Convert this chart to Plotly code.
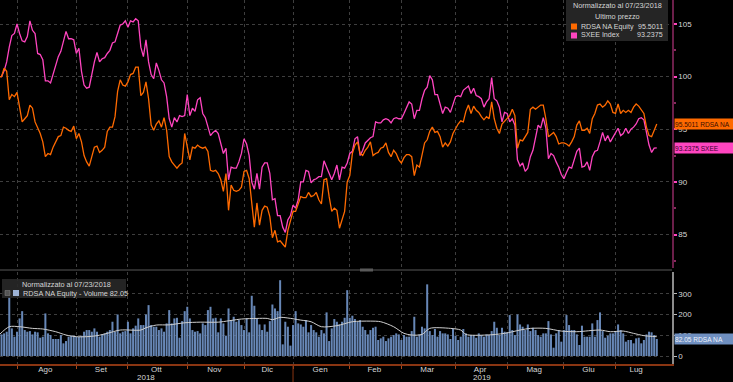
import pandas as pd
import plotly.graph_objects as go

# ---------------- data ----------------
START, END = "2018-07-23", "2019-07-23"
HOLIDAYS = ["2018-12-25", "2018-12-26", "2019-01-01", "2019-04-19", "2019-04-22", "2019-05-01"]
MONTHS_IT = {1: "Gen", 2: "Feb", 3: "Mar", 4: "Apr", 5: "Mag", 6: "Giu",
             7: "Lug", 8: "Ago", 9: "Set", 10: "Ott", 11: "Nov", 12: "Dic"}

# normalised prices, one value per trading session (07/23/2018 = 100)
rdsa = [
    100.0, 100.0, 100.8, 100.5, 97.8, 98.3, 98.1, 98.5, 97.1, 95.7,
    96.0, 96.3, 97.3, 97.0, 95.7, 95.1, 94.6, 93.8, 92.4, 92.7,
    92.6, 93.3, 93.8, 94.3, 94.4, 95.2, 95.1, 94.9, 94.8, 95.3,
    94.1, 94.6, 93.8, 92.5, 91.9, 91.5, 92.4, 93.3, 93.4, 92.8,
    93.0, 93.3, 94.8, 95.2, 95.2, 96.2, 98.6, 99.7, 99.2, 99.1,
    99.5, 100.2, 100.3, 100.9, 100.9, 98.2, 98.5, 99.5, 97.9, 95.4,
    94.9, 95.5, 95.8, 95.2, 96.1, 94.9, 92.4, 91.9, 91.6, 91.3,
    91.6, 91.8, 94.6, 93.3, 92.1, 93.3, 93.2, 93.5, 93.3, 93.2,
    93.3, 92.9, 91.1, 91.0, 91.1, 90.8, 90.2, 89.1, 90.8, 87.3,
    89.7, 89.2, 89.1, 89.2, 89.5, 91.0, 91.1, 90.3, 87.8, 85.7,
    88.0, 85.9, 87.3, 87.7, 87.6, 86.7, 84.7, 85.4, 84.3, 84.4,
    84.1, 83.8, 85.4, 86.2, 87.2, 87.2, 87.9, 88.6, 88.5, 88.5,
    89.0, 88.6, 88.7, 89.0, 88.3, 87.9, 90.2, 90.3, 88.6, 87.2,
    87.5, 87.3, 85.6, 86.4, 87.2, 90.0, 90.6, 92.7, 93.5, 93.8,
    92.7, 92.5, 93.0, 93.3, 93.8, 92.5, 92.7, 92.8, 93.2, 93.3,
    93.7, 92.8, 92.4, 93.0, 92.7, 92.1, 91.8, 92.3, 92.6, 92.6,
    92.4, 90.6, 91.6, 91.4, 92.7, 93.7, 94.0, 94.8, 95.2, 94.7,
    94.8, 94.3, 93.3, 93.7, 93.4, 93.8, 94.6, 95.1, 95.5, 95.8,
    95.7, 96.7, 97.3, 96.5, 97.2, 96.8, 96.6, 96.2, 95.9, 96.2,
    96.0, 97.6, 96.0, 95.1, 94.6, 95.5, 95.8, 96.0, 96.3, 96.9,
    96.3, 93.2, 94.0, 93.9, 94.3, 94.7, 96.9, 97.1, 96.9, 97.1,
    97.3, 97.3, 96.0, 94.3, 94.5, 94.7, 94.3, 93.6, 93.7, 93.7,
    93.6, 93.4, 93.8, 94.3, 95.4, 95.8, 94.9, 94.9, 95.1, 94.6,
    96.0, 96.5, 97.3, 97.4, 97.1, 97.3, 97.7, 97.4, 96.6, 96.5,
    97.4, 96.5, 96.8, 96.6, 96.8, 96.6, 97.1, 97.4, 97.2, 96.8,
    96.5, 95.2, 94.4, 94.3, 94.9, 95.5011,
]
sxee = [
    100.0, 100.0, 100.55, 101.4, 102.8, 103.9, 104.1, 105.0, 104.1, 103.4,
    103.3, 103.8, 105.3, 104.4, 104.1, 102.2, 102.1, 101.6, 99.6, 99.6,
    99.4, 100.2, 100.9, 101.9, 102.4, 103.5, 104.3, 103.6, 103.6, 103.5,
    102.2, 102.7, 100.5, 99.2, 98.9, 99.0, 100.3, 101.4, 102.3, 101.4,
    101.7, 101.8, 102.2, 102.5, 103.2, 103.3, 104.1, 104.9, 105.0, 105.3,
    104.7, 105.3, 105.2, 105.5, 105.3, 102.8, 101.9, 103.5, 101.4, 100.2,
    99.8, 101.3, 100.6, 99.7, 99.4, 98.1, 96.0, 95.2, 96.1, 95.7,
    96.3, 96.2, 96.3, 98.3, 96.3, 97.0, 96.7, 97.8, 98.0, 96.5,
    96.1, 95.2, 94.4, 94.7, 94.9, 94.6, 93.7, 92.7, 93.2, 90.2,
    91.4, 91.3, 91.3, 91.9, 92.7, 94.1, 93.6, 92.5, 90.0, 89.3,
    90.8, 89.3, 91.4, 91.8, 91.8, 90.8, 88.3, 88.4, 86.8, 86.8,
    85.7, 85.2, 86.4, 86.8, 87.8, 87.5, 88.3, 90.0, 90.0, 91.1,
    91.0, 89.9, 90.2, 90.3, 90.5, 90.5, 92.0, 91.4, 90.8, 90.2,
    90.8, 91.6, 90.2, 91.4, 91.3, 91.8, 92.7, 92.9, 94.1, 94.3,
    92.5, 93.0, 93.7, 94.0, 94.2, 94.3, 95.7, 95.6, 95.6, 95.9,
    96.0, 95.9, 95.6, 96.0, 96.1, 96.0, 96.0, 96.5, 97.1, 97.6,
    97.4, 96.0, 96.8, 96.8, 97.9, 98.7, 99.0, 100.1, 99.7, 98.3,
    98.3, 97.5, 96.5, 97.1, 97.0, 96.6, 97.4, 98.1, 98.2, 98.1,
    98.7, 98.9, 99.1, 98.4, 98.9, 98.2, 98.1, 97.9, 97.1, 97.6,
    97.9, 99.9, 97.9, 97.7, 97.1, 95.7, 96.6, 96.5, 95.7, 96.0,
    95.4, 92.1, 91.5, 91.8, 91.0, 91.3, 92.4, 93.0, 94.3, 95.4,
    95.1, 96.1, 95.1, 92.2, 92.7, 92.5, 91.9, 91.4, 90.7, 90.3,
    90.9, 91.4, 91.3, 92.2, 92.9, 93.2, 91.4, 91.5, 91.9, 91.1,
    92.4, 92.9, 93.0, 93.8, 94.7, 93.9, 94.4, 93.8, 94.2, 94.6,
    95.1, 94.4, 94.6, 95.1, 94.6, 95.0, 95.2, 95.5, 96.0, 96.1,
    95.9, 94.7, 93.5, 92.8, 93.2, 93.2375,
]
# normalised volume, one bar per session
volume = [
    100,
    104, 109, 117, 285, 133, 93, 117, 181, 216, 125,
    117, 120, 104, 117, 114, 88, 93, 205, 109, 101,
    82, 82, 82, 101, 61, 72, 93, 98, 98, 93,
    93, 98, 117, 125, 125, 117, 133, 117, 93, 104,
    109, 117, 125, 165, 117, 200, 109, 117, 120, 165,
    109, 133, 146, 181, 149, 149, 200, 245, 149, 141,
    141, 125, 133, 117, 157,
    221, 157, 181, 184, 88, 168, 216, 237, 181, 125,
    117, 120, 109, 157, 149, 221, 237, 181, 184, 114,
    181, 157, 98, 229, 173, 189, 165, 173, 149, 125,
    181, 114, 290, 242, 181, 152, 125, 152, 117, 168,
    248, 229, 216, 365, 56, 165, 141, 50, 149, 216,
    157, 152, 141, 173, 114, 149, 125, 114, 93, 125,
    109, 210, 72, 133, 178, 165,
    152, 165, 184, 317, 184, 194, 178, 165, 173, 141,
    125, 104, 125, 136, 141, 77, 85, 93, 72, 85,
    93, 101, 109, 104, 77, 101, 93, 93, 120, 189,
    93, 104, 141, 133, 345, 120, 101, 130, 93, 120,
    109, 109, 104, 82, 130, 98, 77, 93, 130, 109,
    93, 101, 101, 88, 109, 101, 93, 104, 101, 120,
    165, 136, 101, 136, 117,
    114, 197, 125, 101, 200, 152, 141, 125, 152, 120,
    136, 125, 101, 93, 109, 109, 168, 104, 40, 109,
    125, 69, 125, 197, 149, 125, 125, 104, 53, 146,
    93, 93, 93, 157, 93, 173, 210, 120, 88, 98,
    109, 109, 120, 152, 125, 109, 69, 77, 77, 61,
    85, 88, 61, 77, 104, 117, 114, 101, 82.05,
]
# moving average of volume (session number, value)
vol_ma_session = [0, 4, 8, 13, 17, 22, 26, 30, 34, 38, 42, 47, 55, 57, 61, 66, 72, 78, 85,
                  94, 100, 104, 106, 109, 112, 117, 121, 125, 131, 137, 144, 148, 153, 157,
                  160, 164, 167, 175, 179, 181, 189, 196, 202, 206, 212, 218, 224, 233, 237,
                  242, 246, 250, 255]
vol_ma_value = [101, 141, 141, 133, 130, 117, 101, 93, 93, 98, 109, 125, 125, 136, 149, 150,
                160, 163, 163, 178, 181, 181, 175, 186, 183, 173, 165, 141, 146, 165, 168,
                165, 141, 109, 101, 104, 133, 133, 125, 104, 101, 109, 125, 133, 133, 120,
                117, 125, 117, 120, 109, 98, 93]

# ---------------- trading calendar ----------------
days = pd.bdate_range(START, END)
days = days[~days.isin(pd.to_datetime(HOLIDAYS))]
n = len(days)
sess = list(range(n))

month_starts = [i for i in range(1, n) if days[i].month != days[i - 1].month]
bounds = month_starts + [n]
label_pos, label_txt = [], []
for a, b in zip(bounds[:-1], bounds[1:]):
    label_pos.append((a + b - 1) / 2)
    label_txt.append(MONTHS_IT[days[a].month])
year_start = [i for i in month_starts if days[i].month == 1][0]

X0, X1 = 0.41, 260.9
W, H = 733, 382
XR = 672 / W


def py(p):
    return 1 - p / H


FONT = "Liberation Sans, Arial, sans-serif"
ORANGE = "#ff6a00"
PINK = "#ff45c0"
GRID = "#3e3e3e"
TXT = "#d6d6d6"

fig = go.Figure()
fig.add_trace(go.Bar(x=sess[:len(volume)], y=volume, marker=dict(color="#6787b6", line_width=0),
                     xaxis="x2", yaxis="y2", hoverinfo="skip"))
fig.add_trace(go.Scatter(x=vol_ma_session, y=vol_ma_value, mode="lines",
                         line=dict(color="#cfcfcf", width=1, shape="spline", smoothing=0.8),
                         xaxis="x2", yaxis="y2"))
fig.add_trace(go.Scatter(x=sess[:len(sxee)], y=sxee, mode="lines", line=dict(color=PINK, width=1.3)))
fig.add_trace(go.Scatter(x=sess[:len(rdsa)], y=rdsa, mode="lines", line=dict(color=ORANGE, width=1.3)))

fig.update_layout(
    width=W, height=H, margin=dict(l=0, r=0, t=0, b=0, autoexpand=False),
    paper_bgcolor="#000000", plot_bgcolor="#000000",
    showlegend=False, bargap=0.22,
    font=dict(family=FONT, size=8, color=TXT),
    xaxis=dict(domain=[0, XR], range=[X0, X1], anchor="y", tickmode="array", tickvals=month_starts,
               showticklabels=False, ticks="", showgrid=True, gridcolor=GRID, griddash="dot",
               gridwidth=1, zeroline=False, showline=False, automargin=False),
    yaxis=dict(domain=[py(268), 1], range=[81.82, 107.28], side="right", anchor="x",
               tickvals=[85, 90, 95, 100, 105], showgrid=True, gridcolor=GRID, griddash="dot",
               zeroline=False, showline=True, linecolor="#6b1f4a", linewidth=1.5,
               ticks="outside", ticklen=3, tickcolor=PINK, tickwidth=1.5, ticklabelstandoff=0,
               tickfont=dict(size=8, color=TXT), automargin=False,
               minor=dict(tickmode="array", tickvals=[82.5, 87.5, 92.5, 97.5, 102.5],
                          ticks="outside", ticklen=2, tickcolor="#8a2a60", showgrid=False)),
    xaxis2=dict(domain=[0, XR], range=[X0, X1], anchor="y2", matches="x", tickmode="array",
                tickvals=label_pos, ticktext=label_txt, ticks="", showgrid=False,
                tickfont=dict(size=8, color=TXT), zeroline=False, automargin=False,
                ticklabelstandoff=-4,
                showline=True, linecolor="#8a3512", linewidth=2,
                minor=dict(tickmode="array", tickvals=month_starts, showgrid=True, gridcolor=GRID,
                           griddash="dot", ticks="outside", ticklen=3, tickcolor="#a8461a")),
    yaxis2=dict(domain=[py(364), py(272)], range=[-38.5, 404.5], side="right", anchor="x2",
                tickvals=[0, 100, 200, 300], showgrid=True, gridcolor=GRID, griddash="dot",
                zeroline=False, showline=True, linecolor="#8c8c8c", linewidth=1.5,
                ticks="outside", ticklen=3, tickcolor="#bbbbbb", ticklabelstandoff=0,
                tickfont=dict(size=8, color=TXT), automargin=False),
)

shapes = []
# panel separator and handle
shapes.append(dict(type="line", xref="paper", yref="paper", x0=0, x1=XR, y0=py(270), y1=py(270),
                   line=dict(color="#2c2c2c", width=2)))
shapes.append(dict(type="rect", xref="paper", yref="paper", x0=360 / W, x1=373 / W,
                   y0=py(271.5), y1=py(268.5), fillcolor="#5a5a5a", line_width=0))
# year boundary tick
shapes.append(dict(type="line", xref="x2", yref="paper", x0=year_start, x1=year_start,
                   y0=py(364), y1=0, line=dict(color="#8a3512", width=1)))
# top legend box
shapes.append(dict(type="rect", xref="paper", yref="paper", x0=566 / W, x1=668 / W,
                   y0=py(41), y1=1, fillcolor="rgba(40,40,40,0.92)", line_width=0))
shapes.append(dict(type="rect", xref="paper", yref="paper", x0=571 / W, x1=577 / W,
                   y0=py(29.5), y1=py(23.5), fillcolor=ORANGE, line_width=0))
shapes.append(dict(type="rect", xref="paper", yref="paper", x0=571 / W, x1=577 / W,
                   y0=py(38.5), y1=py(32.5), fillcolor=PINK, line_width=0))
# bottom legend box
shapes.append(dict(type="rect", xref="paper", yref="paper", x0=2 / W, x1=126 / W,
                   y0=py(298), y1=py(279), fillcolor="rgba(40,40,40,0.9)", line_width=0))
shapes.append(dict(type="rect", xref="paper", yref="paper", x0=13 / W, x1=19 / W,
                   y0=py(296), y1=py(290), fillcolor="#9db3d6", line_width=0))
shapes.append(dict(type="rect", xref="paper", yref="paper", x0=5 / W, x1=10 / W,
                   y0=py(295.5), y1=py(290.5), fillcolor="#555555", line=dict(color="#888", width=0.5)))
fig.update_layout(shapes=shapes)

ann = []


def txt(x, y, s, anchor="left", color=TXT, size=7.3):
    ann.append(dict(xref="paper", yref="paper", x=x / W, y=py(y), text=s, showarrow=False,
                    xanchor=anchor, yanchor="middle", font=dict(size=size, color=color, family=FONT)))


txt(617, 6, "Normalizzato al 07/23/2018", "center")
txt(617, 16, "Ultimo prezzo", "center")
txt(579, 26.5, "RDSA NA Equity", size=7.1)
txt(665, 26.5, f"{rdsa[-1]:.4f}", "right", size=7.1)
txt(579, 35.5, "SXEE Index", size=7.1)
txt(665, 35.5, f"{sxee[-1]:.4f}", "right", size=7.1)
txt(66, 284.5, "Normalizzato al 07/23/2018", "center")
txt(21, 293, f"RDSA NA Equity - Volume {volume[-1]:.2f}")

# last-value labels on the right axis
for yref, val, label, bg, fg in [("y", rdsa[-1], f"{rdsa[-1]:.4f} RDSA NA", ORANGE, "#3a0e00"),
                                 ("y", sxee[-1], f"{sxee[-1]:.4f} SXEE", PINK, "#3a0030"),
                                 ("y2", volume[-1], f"{volume[-1]:.2f} RDSA NA", "#6f8fc0", "#eef2fa")]:
    ann.append(dict(xref="paper", yref=yref, x=674 / W, y=val, text=label, showarrow=False,
                    xanchor="left", yanchor="middle", align="left", bgcolor=bg, width=59, height=10,
                    borderpad=0, font=dict(size=6.6, color=fg, family=FONT)))

# year labels
ann.append(dict(xref="x2", yref="paper", x=(X0 + year_start - 0.5) / 2, y=py(377.5), text=str(days[0].year),
                showarrow=False, xanchor="center", yanchor="middle", font=dict(size=8, color=TXT, family=FONT)))
ann.append(dict(xref="x2", yref="paper", x=(year_start - 0.5 + X1) / 2, y=py(377.5), text=str(days[-1].year),
                showarrow=False, xanchor="center", yanchor="middle", font=dict(size=8, color=TXT, family=FONT)))
fig.update_layout(annotations=ann)

fig.write_html("out.html", config={"displayModeBar": False},
               post_script="document.body.style.margin='0';document.body.style.overflow='hidden';")
